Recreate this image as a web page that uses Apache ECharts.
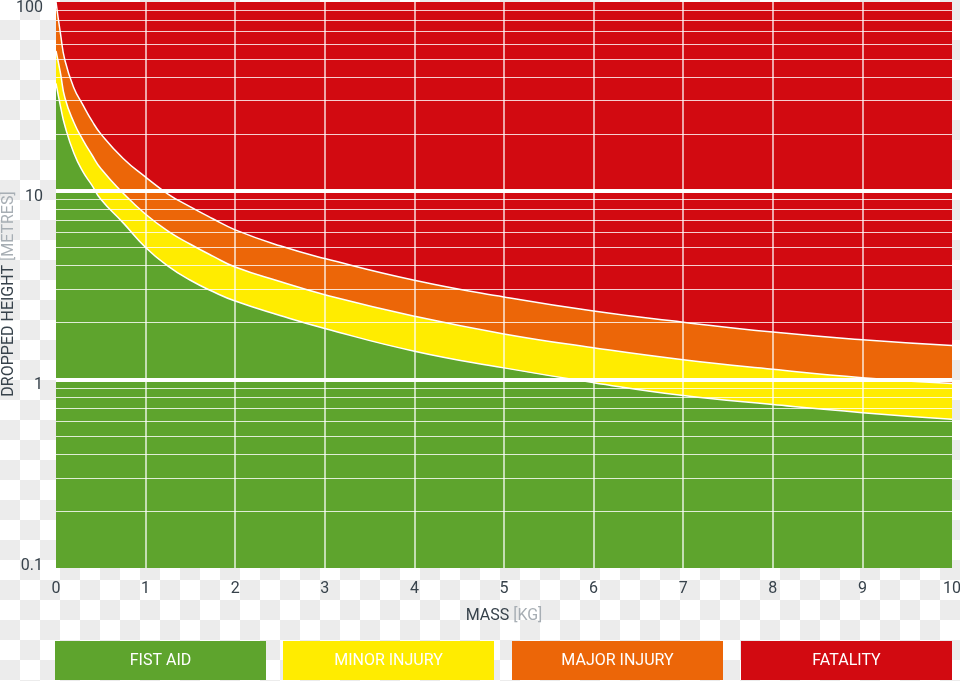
<!DOCTYPE html>
<html>
<head>
<meta charset="utf-8">
<script src="https://cdn.jsdelivr.net/npm/echarts@6/dist/echarts.min.js"></script>
<style>
html, body { margin: 0; padding: 0; }
body {
  width: 960px; height: 681px;
  background: repeating-conic-gradient(#ececec 0% 25%, #ffffff 0% 50%) 0 0 / 40px 40px;
}
#chart { width: 960px; height: 681px; }
</style>
</head>
<body>
<div id="chart"></div>
<script>
// ---- data ----
const mass        = [0, 0.05, 0.1, 0.2, 0.3, 0.4, 0.5, 0.75, 1, 1.25, 1.5, 1.75, 2, 2.5, 3, 4, 5, 6, 7, 8, 9, 10];
const fistAid     = [37, 28, 22, 15.8, 12.6, 10.7, 9.0, 6.75, 5.0, 3.98, 3.35, 2.92, 2.6, 2.18, 1.86, 1.41, 1.15, 0.96, 0.82, 0.735, 0.666, 0.614];
const minorInjury = [55, 42, 31, 23, 18.6, 15.5, 13.1, 9.7, 7.5, 6.1, 5.2, 4.5, 3.94, 3.3, 2.81, 2.16, 1.74, 1.47, 1.27, 1.13, 1.02, 0.95];
const majorInjury = [100, 68, 49, 35, 28.5, 23.5, 20, 14.8, 11.8, 9.6, 8.2, 7.1, 6.2, 5.1, 4.37, 3.35, 2.73, 2.30, 2.01, 1.78, 1.62, 1.51];
const xTicks      = [0, 1, 2, 3, 4, 5, 6, 7, 8, 9, 10];
const yTicks      = [0.1, 1, 10, 100];
const yMinorTicks = [0.2, 0.3, 0.4, 0.5, 0.6, 0.7, 0.8, 0.9, 2, 3, 4, 5, 6, 7, 8, 9, 20, 30, 40, 50, 60, 70, 80, 90];
const bandNames   = ['FIST AID', 'MINOR INJURY', 'MAJOR INJURY', 'FATALITY'];
const xName = ['MASS', '[KG]'];
const yName = ['DROPPED HEIGHT', '[METRES]'];

const colors = ['#5ea42d', '#ffec00', '#ec6608', '#d20a11'];
const dark = '#37424b';
const light = '#a7aeb4';
const font = 'Roboto';

const zip = (ys) => mass.map((m, i) => [m, ys[i]]);

function areaSeries(name, ys, color, extra) {
  return Object.assign({
    name: name,
    type: 'line',
    data: zip(ys),
    smooth: 0.5,
    showSymbol: false,
    symbol: 'none',
    lineStyle: { color: '#ffffff', width: 1.5 },
    areaStyle: { color: color, opacity: 1, origin: 'start' },
    silent: true,
    clip: true
  }, extra || {});
}

const chart = echarts.init(document.getElementById('chart'), null, { renderer: 'canvas' });
chart.setOption({
  animation: false,
  textStyle: { fontFamily: font },
  grid: {
    left: 56, top: 2, right: 8, bottom: 113,
    outerBoundsMode: 'none', containLabel: false,
    show: true, backgroundColor: colors[3], borderWidth: 0
  },
  xAxis: {
    type: 'value', min: xTicks[0], max: xTicks[xTicks.length - 1], interval: 1,
    z: 10,
    axisLine: { show: false }, axisTick: { show: false },
    axisLabel: { color: dark, fontSize: 16, margin: 13, fontFamily: font },
    splitLine: { show: true, showMinLine: false, showMaxLine: false,
      lineStyle: { color: 'rgba(255,255,255,0.85)', width: 1.5 } },
    name: '{a|' + xName[0] + ' }{b|' + xName[1] + '}',
    nameLocation: 'middle', nameGap: 40, nameMoveOverlap: false,
    nameTextStyle: { rich: {
      a: { color: dark, fontSize: 16, fontFamily: font },
      b: { color: light, fontSize: 16, fontFamily: font } } }
  },
  yAxis: {
    type: 'log', logBase: 10, min: yTicks[0], max: yTicks[yTicks.length - 1],
    z: 10,
    axisLine: { show: false }, axisTick: { show: false },
    axisLabel: { color: dark, fontSize: 16, margin: 13, fontFamily: font,
      formatter: (v) => {
        const t = yTicks.find(t => Math.abs(t - v) < 1e-9);
        const s = String(t ?? v);
        return (t === yTicks[0] ? '{m|' : '{n|') + s + '}';
      },
      rich: {
        n: { color: dark, fontSize: 16, fontFamily: font, padding: [12, 0, 0, 0] },
        m: { color: dark, fontSize: 16, fontFamily: font, padding: [0, 0, 4, 0] }
      } },
    splitLine: { show: true, showMinLine: false, showMaxLine: false,
      lineStyle: { color: '#ffffff', width: 4 } },
    name: '{a|' + yName[0] + ' }{b|' + yName[1] + '}',
    nameLocation: 'middle', nameGap: 39, nameRotate: 90, nameMoveOverlap: false,
    nameTextStyle: { padding: [0, 18, 0, 0], rich: {
      a: { color: dark, fontSize: 16, fontFamily: font },
      b: { color: light, fontSize: 16, fontFamily: font } } }
  },
  series: [
    areaSeries(bandNames[2], majorInjury, colors[2]),
    areaSeries(bandNames[1], minorInjury, colors[1]),
    areaSeries(bandNames[0], fistAid, colors[0], {
      markLine: {
        silent: true, symbol: 'none', animation: false,
        label: { show: false },
        lineStyle: { color: 'rgba(255,255,255,0.8)', width: 1, type: 'solid' },
        data: yMinorTicks.map(v => ({ yAxis: v }))
      }
    })
  ],
  graphic: bandNames.map((b, i) => ({
    type: 'rect',
    left: [55, 283, 512, 741][i], top: 641,
    shape: { width: 211, height: 39 },
    style: { fill: colors[i] },
    textContent: { style: { text: b, fill: '#ffffff', fontSize: 16, fontFamily: font } },
    textConfig: { position: 'inside' }
  }))
});
</script>
</body>
</html>
